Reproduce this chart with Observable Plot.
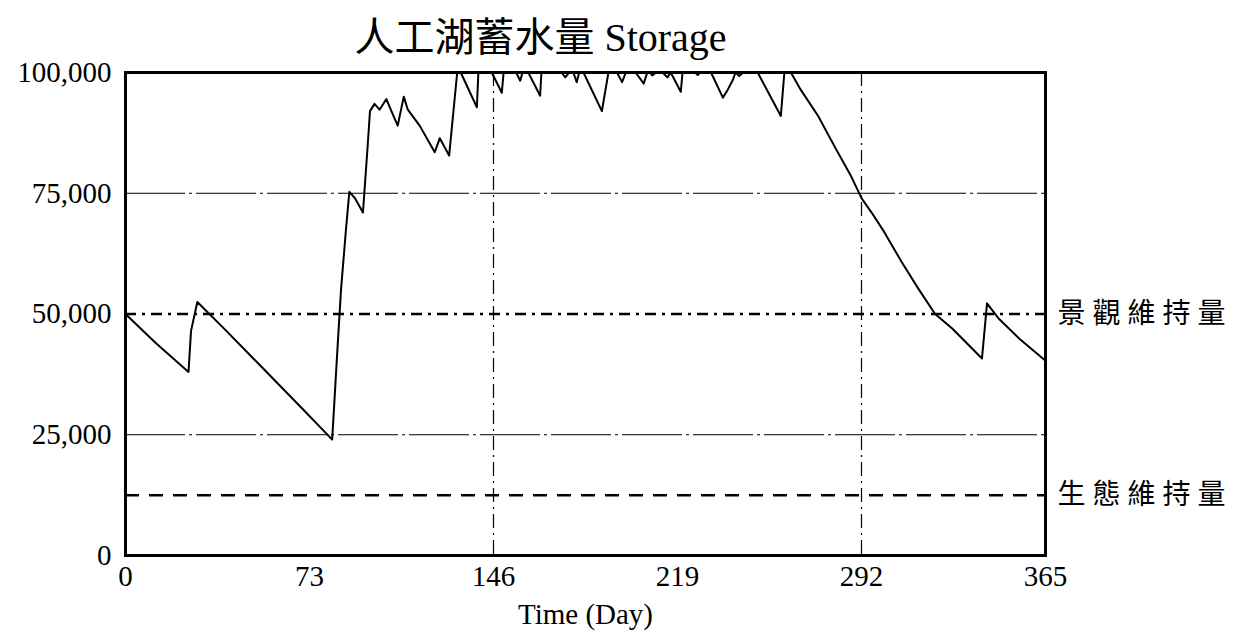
<!DOCTYPE html>
<html>
<head>
<meta charset="utf-8">
<script src="https://cdn.jsdelivr.net/npm/d3@7"></script>
<script src="https://cdn.jsdelivr.net/npm/@observablehq/plot@0.6"></script>
<style>
  html, body { margin: 0; padding: 0; background: #fff; }
  .cjk text { letter-spacing: 7px; }
</style>
</head>
<body>
<div id="chart"></div>
<script>
// Data
const days = [0, 12, 25, 26, 28.5, 40, 55, 70, 82, 84, 85.5, 87.5, 88.8, 91, 94.2, 96.1, 97, 98.8, 100.8, 103.5, 105.5, 108, 110.4, 112, 116.7, 122.7, 124.7, 128.4, 131.6, 133, 139.4, 140, 145.3, 149.3, 150, 155, 156.6, 157.5, 159.8, 164.5, 165, 173, 174.5, 176, 177.7, 179, 180, 181.7, 189, 191.6, 195, 197, 198.5, 202.4, 205.6, 207, 208, 209, 210.5, 213, 215, 216.3, 220.3, 221, 226, 227, 228, 232.3, 237, 239, 241, 242, 243.5, 245, 250.8, 260, 261.4, 264, 267.8, 274.8, 281.4, 288, 292, 296, 301, 308, 314.6, 321.2, 328, 339.8, 341.8, 346.5, 354.4, 365];
const storage = [50000, 44000, 38000, 46500, 52500, 46500, 38500, 30500, 24000, 42000, 55000, 67700, 75300, 74000, 71000, 85000, 92000, 93500, 92300, 94500, 92000, 89000, 95000, 92300, 89000, 83500, 86400, 82800, 100000, 100000, 92800, 100000, 100000, 95800, 100000, 100000, 98300, 100000, 100000, 95200, 100000, 100000, 99000, 100000, 100000, 98000, 100000, 100000, 92000, 100000, 100000, 98000, 100000, 100000, 97700, 100000, 100000, 99400, 100000, 100000, 99000, 100000, 96000, 100000, 100000, 99500, 100000, 100000, 94800, 96500, 98500, 100000, 99300, 100000, 100000, 91000, 100000, 100000, 96500, 91000, 84600, 78400, 74000, 71000, 67000, 60700, 55200, 50000, 47000, 40800, 52200, 49000, 45000, 40300];

const xTicks = [0, 73, 146, 219, 292, 365];
const yTicks = [0, 25000, 50000, 75000, 100000];
const xGrid = [146, 292];
const yGrid = [25000, 75000];
const landscapeLevel = 50000;
const ecoLevel = 12500;
const refLabels = ["景觀維持量", "生態維持量"];
const refLevels = [landscapeLevel, ecoLevel];
const xLabel = "Time (Day)";
const titleText = "人工湖蓄水量 Storage";

const series = days.map((d, i) => ({day: d, value: storage[i]}));
const refs = refLabels.map((t, i) => ({label: t, level: refLevels[i]}));

const serif = '"Liberation Serif", "Times New Roman", "Noto Sans CJK TC", serif';

const chart = Plot.plot({
  width: 1253,
  height: 636,
  marginTop: 72,
  marginBottom: 81,
  marginLeft: 125,
  marginRight: 208,
  style: {fontFamily: serif, fontSize: "29px", color: "#000", background: "#fff"},
  x: {domain: [0, 365]},
  y: {domain: [0, 100000]},
  marks: [
    Plot.ruleY(yGrid, {stroke: "#000", strokeWidth: 1, strokeDasharray: "60,4,3,4"}),
    Plot.ruleX(xGrid, {stroke: "#000", strokeWidth: 1.2, strokeDasharray: "14,5,2,5"}),
    Plot.ruleY([landscapeLevel], {stroke: "#000", strokeWidth: 2.5, strokeDasharray: "11,6,3,6"}),
    Plot.ruleY([ecoLevel], {stroke: "#000", strokeWidth: 2.5, strokeDasharray: "14,10"}),
    Plot.line(series, {x: "day", y: "value", stroke: "#000", strokeWidth: 2}),
    Plot.frame({stroke: "#000", strokeWidth: 3}),
    Plot.axisY({ticks: yTicks, tickFormat: d3.format(","), tickSize: 0, tickPadding: 14, label: null}),
    Plot.axisX({ticks: xTicks, tickFormat: d => String(d), tickSize: 0, tickPadding: 10, label: xLabel, labelAnchor: "center", labelOffset: 68, labelArrow: "none"}),
    Plot.text([titleText], {frameAnchor: "top", lineAnchor: "middle", text: d => d, dx: -45, dy: -34, fontSize: 40, fontFamily: serif, fill: "#000"}),
    Plot.text(refs, {frameAnchor: "right", y: "level", text: "label", textAnchor: "start", dx: 12,
      fontFamily: '"Noto Sans CJK TC", "Noto Sans CJK SC", sans-serif', fontSize: 28, fill: "#000", className: "cjk"})
  ]
});
document.getElementById("chart").appendChild(chart);
</script>
</body>
</html>
